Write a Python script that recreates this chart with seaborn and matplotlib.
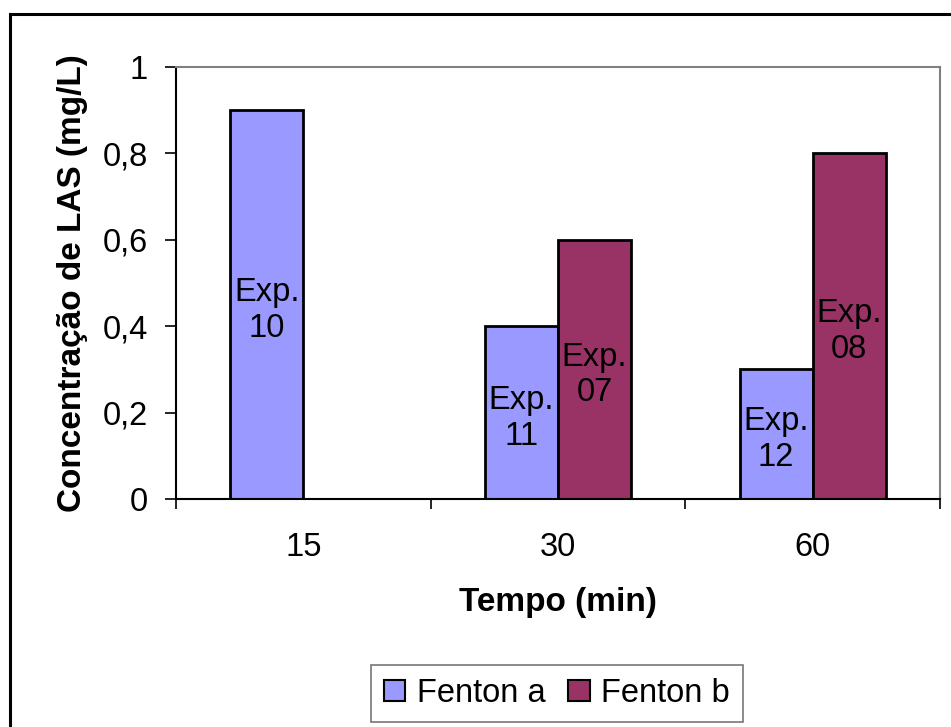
import matplotlib
matplotlib.use("Agg")
import matplotlib.pyplot as plt
import seaborn as sns
import numpy as np
import pandas as pd
from matplotlib.patches import Rectangle, Patch

# ---- data ----
tempos = ["15", "30", "60"]
fenton_a = [0.9, 0.4, 0.3]
fenton_b = [np.nan, 0.6, 0.8]
series_names = ["Fenton a", "Fenton b"]
exp_a = ["10", "11", "12"]
exp_b = [None, "07", "08"]
y_ticks = [0, 0.2, 0.4, 0.6, 0.8, 1.0]
y_tick_labels = ["0", "0,2", "0,4", "0,6", "0,8", "1"]
colors = {"Fenton a": "#9999FF", "Fenton b": "#993366"}

df = pd.DataFrame({
    "Tempo": tempos * 2,
    "Conc": fenton_a + fenton_b,
    "Serie": [series_names[0]] * 3 + [series_names[1]] * 3,
    "Exp": exp_a + exp_b,
})

sns.set_theme(style="white")
plt.rcParams["font.family"] = ["Liberation Sans", "DejaVu Sans"]
plt.rcParams["text.color"] = "black"
plt.rcParams["xtick.color"] = "black"
plt.rcParams["ytick.color"] = "black"
plt.rcParams["axes.labelcolor"] = "black"

FS = 23.5

fig = plt.figure(figsize=(9.51, 7.27), dpi=100)
ax = fig.add_axes([176 / 951, 1 - 499 / 727, (940 - 176) / 951, (499 - 67) / 727])

sns.barplot(data=df, x="Tempo", y="Conc", hue="Serie", order=tempos,
            hue_order=series_names, palette=colors, width=0.573, gap=0,
            saturation=1, edgecolor="black", linewidth=2, ax=ax, legend=False,
            errorbar=None)

# labels in middle of bars (containers hold only the non-NaN bars)
for cont, vals, labs in zip(ax.containers, [fenton_a, fenton_b], [exp_a, exp_b]):
    valid_labs = [l for v, l in zip(vals, labs) if np.isfinite(v)]
    for patch, lab in zip(cont.patches, valid_labs):
        h = patch.get_height()
        if lab is None:
            continue
        ax.annotate(f"Exp.\n{lab}", (patch.get_x() + patch.get_width() / 2, h / 2),
                    xytext=(0, -4), textcoords="offset points",
                    ha="center", va="center", fontsize=FS, linespacing=1.2,
                    color="black")

ax.set_ylim(0, 1)
ax.set_xlim(-0.5, 2.5)
ax.set_yticks(y_ticks)
ax.set_yticklabels(y_tick_labels, fontsize=FS)
ax.set_xticks(range(len(tempos)))
ax.set_xticklabels(tempos, fontsize=FS)
ax.set_xticks([-0.5, 0.5, 1.5, 2.5], minor=True)
ax.tick_params(axis="x", which="major", length=0, pad=24)
ax.tick_params(axis="x", which="minor", length=7.5, width=1.2, direction="out",
               color="black", bottom=True)
ax.tick_params(axis="y", which="major", length=8, width=1.2, direction="out",
               color="black", left=True, pad=12)

for side in ["top", "right"]:
    ax.spines[side].set_color("#808080")
    ax.spines[side].set_linewidth(1.5)
for side in ["left", "bottom"]:
    ax.spines[side].set_color("black")
    ax.spines[side].set_linewidth(1.5)

ax.set_xlabel("Tempo (min)", fontsize=24, fontweight="bold", labelpad=17)
ax.set_ylabel("Concentração de LAS (mg/L)", fontsize=24, fontweight="bold",
              labelpad=11)

handles = [Patch(facecolor=colors[s], edgecolor="black", linewidth=1.5, label=s)
           for s in series_names]
leg = fig.legend(handles=handles, loc="center", bbox_to_anchor=(557 / 951, 1 - 693.5 / 727),
                 ncol=2, fontsize=FS, frameon=True, fancybox=False,
                 handlelength=0.65, handleheight=0.65, handletextpad=0.35,
                 columnspacing=0.7, borderpad=0.4, borderaxespad=0)
leg.get_frame().set_edgecolor("#555555")
leg.get_frame().set_linewidth(1.2)

# outer frame
fig.patches.append(Rectangle((10 / 951, -0.05), 1.1, 1 - 14 / 727 + 0.05,
                             transform=fig.transFigure, fill=False,
                             edgecolor="black", linewidth=2.2, clip_on=False))

fig.savefig("out.png", dpi=100)
